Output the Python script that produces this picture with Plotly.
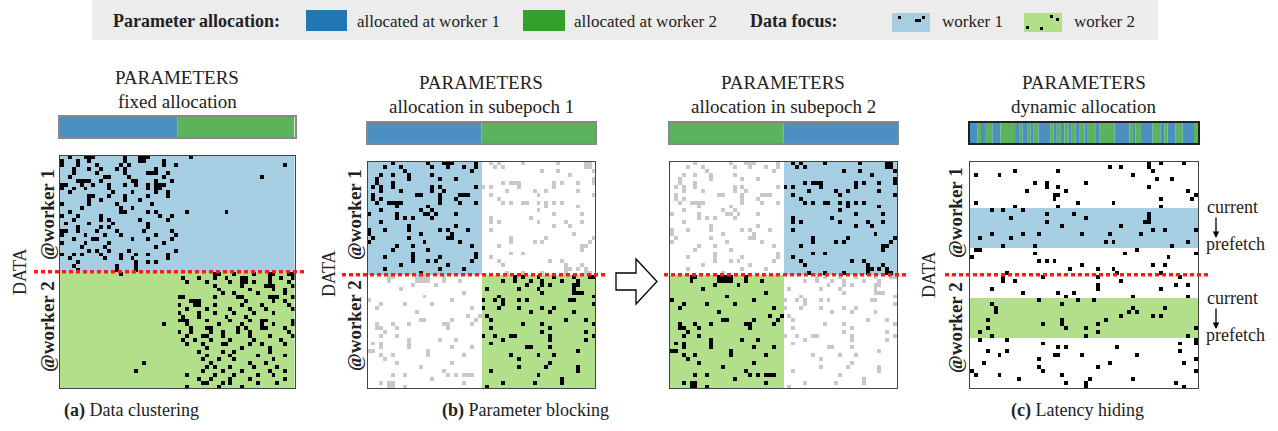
import plotly.graph_objects as go

W, H = 1278, 431


def X(px):
    return px / W


def Y(py):
    return 1 - py / H


FONT = "Liberation Serif"
TXT = "#222222"
BLUE_BAR = "#4a90c2"
GREEN_BAR = "#5bb35b"
LEG_BLUE = "#1f78b4"
LEG_GREEN = "#33a02c"
LB = "#a6cee3"
LG = "#b2df8a"
GRAY = "#c8c8c8"

# ---------------- data: dot positions {row: [cols]} ----------------
# (a) data clustering, 60 x 60 grid
a_dots = {
    0: [2, 6, 7, 8, 16, 20, 21, 22, 33], 1: [0, 4, 7, 16, 20, 21, 26],
    2: [0, 4, 9, 15, 17, 26, 29, 57], 3: [3, 7, 10, 14, 16, 24],
    4: [3, 9, 16, 22, 23, 24, 27], 5: [2, 11, 12, 17, 26, 51],
    6: [4, 5, 6, 7, 10, 18, 19, 24, 28], 7: [0, 1, 5, 8, 12, 16, 19, 22, 24, 25, 26],
    8: [0, 3, 6, 12, 22, 24, 25], 9: [2, 13, 18, 24, 27],
    10: [7, 8, 12, 16, 22, 27], 11: [7, 10, 16, 20], 12: [0, 7, 14, 23],
    13: [15, 18, 5], 14: [2, 15, 16, 22, 24, 32, 42], 15: [0, 4, 10, 25, 28],
    16: [3, 10, 12, 20, 27], 17: [1, 7, 13, 22], 18: [4, 10, 12, 22],
    19: [0, 1, 4, 9, 14, 21, 28], 20: [0, 6, 11, 15, 24, 29], 21: [3, 8, 9, 18, 22, 28],
    22: [0, 6, 12, 26], 23: [5, 11, 24], 24: [7, 9, 12, 17, 29],
    25: [0, 3, 5, 10, 15, 19, 22, 27], 26: [2, 11, 15, 18, 27], 27: [4, 19, 22, 24],
    28: [3, 14, 19], 29: [4, 14, 19],
    30: [15, 39, 40, 44, 49, 53, 54, 58, 59], 31: [31, 35, 39, 42, 46, 47, 53, 56, 59],
    32: [32, 37, 43, 46, 47, 49, 53, 58], 33: [39, 46, 52, 53, 54, 59],
    34: [40, 48, 54, 57], 35: [41, 44, 50, 57],
    36: [30, 31, 39, 45, 46, 53, 54, 55, 59], 37: [33, 34, 35, 47, 54, 57],
    38: [30, 34, 35, 39, 46, 51, 58], 39: [32, 37, 43, 48, 52, 59],
    40: [30, 35, 39, 44, 49, 54], 41: [31, 35, 42, 47],
    42: [30, 31, 32, 37, 43, 48, 51, 52, 59], 43: [26, 32, 40, 46, 51, 54, 59],
    44: [33, 37, 38, 45, 47, 51, 52, 57], 45: [30, 33, 38, 41, 45, 48, 58],
    46: [32, 36, 37, 41, 48, 53, 59], 47: [31, 34, 38, 43, 49, 56],
    48: [32, 36, 41, 42, 48, 51, 57], 49: [37, 46, 53], 50: [35, 41, 44, 53],
    51: [37, 43, 50, 57], 52: [36, 40, 44, 54], 53: [21, 38, 48, 52],
    54: [37, 39, 43, 49, 55], 55: [19, 36, 41, 46, 53, 57],
    56: [32, 39, 44, 50, 54], 57: [35, 38, 43, 48, 57],
    58: [36, 37, 41, 43, 50, 55], 59: [32, 40, 46],
}

# (b) parameter blocking, 58 x 58 grid
b_tl = {
    0: [6, 15, 19, 20, 21, 27], 1: [4, 8, 16, 20, 24, 27], 2: [9, 26],
    3: [3, 6, 10, 16], 4: [2, 10, 18, 22], 5: [2, 6],
    6: [1, 3, 6, 16, 18, 27], 7: [3, 8, 16, 19], 8: [1, 12, 13, 18, 23, 24, 25],
    9: [1, 3, 18, 22], 10: [2, 5, 6, 7, 8, 18, 23, 27], 11: [7, 15],
    12: [3, 13, 16], 13: [0, 7, 14, 15, 17, 22], 14: [7, 9, 11, 16], 15: [3],
    16: [10, 22], 17: [0, 4, 10, 18, 20, 25], 18: [0, 13, 21], 19: [1, 10, 20, 21],
    20: [0, 14, 23], 21: [7, 11, 26], 22: [6, 15], 23: [11, 27],
    24: [4, 11, 18, 27], 25: [11, 15, 17, 26], 26: [8, 20], 27: [4, 18, 24], 28: [13],
}
b_br = {
    29: [37, 39, 43, 47, 52, 56, 57], 30: [34, 37, 41, 44, 49, 53],
    31: [40, 44, 46, 52, 53], 32: [30, 38, 43, 52], 33: [44, 52, 53, 54],
    34: [33, 57], 35: [29, 32, 34, 38, 40, 51, 52], 36: [34, 57],
    37: [29, 33, 38, 44, 47], 38: [41, 46, 52], 39: [30], 40: [31, 50, 55],
    41: [39, 44, 57], 42: [31, 46], 43: [44, 55], 44: [29, 32, 36, 37, 46, 57],
    45: [34, 46, 55], 46: [31], 47: [40, 41, 46], 48: [53], 49: [36, 43, 47],
    50: [38], 51: [46], 52: [38, 45, 53], 53: [31, 53], 54: [43], 55: [49],
    56: [34, 42, 49], 57: [30],
}
b_tr = {
    0: [31, 33, 39, 48, 55, 56], 1: [32, 34, 55, 56], 2: [44, 48, 57], 3: [51],
    4: [57], 5: [34, 36, 37, 38, 47, 49, 53, 57], 6: [29, 31, 38, 47],
    7: [35, 42, 45, 53], 8: [31, 43, 57], 9: [33], 10: [34, 36, 39, 40, 43, 45, 47, 49],
    11: [45, 53], 12: [43], 13: [47, 54], 14: [31, 41], 15: [31, 33, 43, 50, 54],
    16: [47, 51], 17: [31], 18: [52], 19: [36, 45, 57], 20: [36, 42, 44, 56],
    21: [33, 54, 55], 22: [54], 23: [36, 39], 24: [31], 25: [33, 46, 49],
    26: [34, 50, 54], 27: [50, 51, 53, 55], 28: [35, 39, 44, 50, 55, 56],
}
b_bl = {
    29: [5, 6, 12, 13, 14, 15, 19], 30: [5, 12, 13, 14, 15, 19, 23], 31: [11, 17],
    32: [8], 33: [24], 34: [14], 35: [0, 21], 36: [3, 9, 16], 37: [2, 26],
    38: [12], 39: [25, 28], 40: [13, 14, 21, 27], 41: [2, 6, 10, 19, 20, 26],
    42: [2, 3, 7, 20], 43: [4], 44: [3, 7], 45: [10, 18, 22], 46: [1, 3, 10],
    47: [3, 10, 21, 26], 48: [0, 1, 15], 49: [3, 6, 15, 24], 50: [4],
    51: [7, 21], 52: [13], 53: [19], 54: [6, 9, 20, 22, 24, 25, 26], 55: [16],
    56: [3, 5, 6, 24], 57: [5, 6, 9],
}

# (c) latency hiding, 58 x 58 grid
c_dots = {
    0: [45, 48, 54], 1: [35, 38, 45], 2: [11, 22, 46], 3: [1, 7, 41], 4: [47, 51],
    5: [16, 19, 29], 6: [19, 22, 45], 7: [14, 24, 55], 8: [21, 22, 57],
    9: [21, 48, 56], 10: [1, 27, 36], 11: [11, 22, 48], 12: [5, 8, 13],
    13: [19, 26, 45], 14: [10, 29, 45], 15: [19, 44, 45], 16: [23, 38],
    17: [46, 49, 57], 18: [5, 13, 17, 28, 35, 43], 19: [2, 10], 20: [34, 36, 55],
    21: [8, 16, 51], 22: [1, 2, 42], 23: [16, 39, 57], 24: [0, 50],
    25: [17, 19, 21], 26: [28, 46, 49], 27: [25, 32, 36], 28: [9, 37, 48],
    29: [8, 18, 32, 53], 30: [8, 11, 38], 31: [32, 52, 55], 32: [5, 32, 48],
    33: [13, 22, 26], 34: [24, 41, 55], 35: [17, 27, 31], 36: [5, 23],
    37: [6, 41, 49], 38: [6, 40, 42], 39: [38, 46, 48], 40: [4, 23, 34],
    41: [18, 23, 32], 42: [4, 24, 29, 57], 43: [2, 32], 44: [5, 29, 55],
    45: [2, 9, 57], 46: [18, 53, 57], 47: [22, 24, 37], 48: [4, 9, 53],
    49: [7, 21, 22, 28, 42], 50: [17, 57], 51: [3, 35, 54], 52: [17, 32],
    53: [0, 18, 57], 54: [1, 7, 23], 55: [12, 30, 41], 56: [24, 29, 52], 57: [29, 54],
}

# parameter allocation bars
fixed_owner = ["w1", "w2"]
fixed_width = [30, 30]
sub1_owner = ["w1", "w2"]
sub1_width = [29, 29]
sub2_owner = ["w2", "w1"]
sub2_width = [29, 29]
dyn_bounds = [0, 1.95, 2.8, 3.82, 5.69, 7.73, 11.46, 12.48, 13.33, 14.52, 15.37,
              16.22, 17.41, 20.38, 21.23, 22.08, 23.1, 24.03, 25.05, 25.9, 26.92,
              27.94, 29.13, 29.98, 31.85, 32.86, 36.77, 40.51, 41.44, 42.04, 43.48,
              46.45, 48.4, 49.42, 50.27, 52.22, 54.09, 56.98, 58]
dyn_owner = ["w1", "w2", "w1", "w2", "w1", "w2", "w1", "w2", "w1", "w2",
             "w1", "w2", "w1", "w2", "w1", "w2", "w1", "w2", "w1", "w2",
             "w1", "w2", "w1", "w2", "w1", "w2", "w1", "w2", "w1", "w2",
             "w1", "w2", "w1", "w2", "w1", "w2", "w1", "w2"]

# ---------------- helpers ----------------
CS = [[0, "white"], [0.2, "white"], [0.2, LB], [0.4, LB], [0.4, LG], [0.6, LG],
      [0.6, "black"], [0.8, "black"], [0.8, GRAY], [1, GRAY]]


def build(n, bg, black, gray):
    z = [[bg(r, c) for c in range(n)] for r in range(n)]
    for d in gray:
        for r, cols in d.items():
            for c in cols:
                z[r][c] = 4
    for d in black:
        for r, cols in d.items():
            for c in cols:
                z[r][c] = 3
    return z


z_a = build(60, lambda r, c: 1 if r < 30 else 2, [a_dots], [])
z_b1 = build(58, lambda r, c: 1 if (r < 29 and c < 29) else (2 if (r >= 29 and c >= 29) else 0),
             [b_tl, b_br], [b_tr, b_bl])
z_b2 = build(58, lambda r, c: 1 if (r < 29 and c >= 29) else (2 if (r >= 29 and c < 29) else 0),
             [b_tr, b_bl], [b_tl, b_br])
z_c = build(58, lambda r, c: 1 if 12 <= r <= 21 else (2 if 35 <= r <= 44 else 0), [c_dots], [])

OWNER_COL = {"w1": BLUE_BAR, "w2": GREEN_BAR}

fig = go.Figure()
layout_axes = {}

# matrices: (z, n, left, right, top, bottom)
mats = [
    (z_a, 60, 60, 294.5, 155.5, 388),
    (z_b1, 58, 367.5, 595, 161.5, 388),
    (z_b2, 58, 670, 897, 161.5, 388),
    (z_c, 58, 970, 1198, 161.5, 388),
]
idx = 1
for z, n, l, r, t, b in mats:
    sfx = "" if idx == 1 else str(idx)
    fig.add_trace(go.Heatmap(z=z, colorscale=CS, zmin=-0.5, zmax=4.5, showscale=False,
                             hoverinfo="skip", xaxis="x" + sfx, yaxis="y" + sfx))
    layout_axes["xaxis" + sfx] = dict(domain=[X(l), X(r)], range=[-0.5, n - 0.5],
                                      showticklabels=False, showgrid=False, zeroline=False,
                                      showline=True, mirror=True, linecolor="#444",
                                      linewidth=1.2, anchor="y" + sfx, ticks="")
    layout_axes["yaxis" + sfx] = dict(domain=[Y(b), Y(t)], range=[n - 0.5, -0.5],
                                      showticklabels=False, showgrid=False, zeroline=False,
                                      showline=True, mirror=True, linecolor="#444",
                                      linewidth=1.2, anchor="x" + sfx, ticks="")
    idx += 1


def starts_of(widths):
    s, acc = [], 0
    for w in widths:
        s.append(acc)
        acc += w
    return s


bars = [
    (fixed_owner, fixed_width, 60, 294.5, 117, 137, "#888"),
    (sub1_owner, sub1_width, 367.5, 595, 123, 143, "#888"),
    (sub2_owner, sub2_width, 670, 897, 123, 143, "#888"),
    (dyn_owner, [dyn_bounds[i + 1] - dyn_bounds[i] for i in range(len(dyn_owner))],
     970, 1198, 123, 143, "#222"),
]
for owners, widths, l, r, t, b, lc in bars:
    sfx = str(idx)
    total = sum(widths)
    fig.add_trace(go.Bar(x=widths, base=starts_of(widths), y=[0] * len(widths),
                         orientation="h", width=1,
                         marker=dict(color=[OWNER_COL[o] for o in owners], line=dict(width=0)),
                         hoverinfo="skip", xaxis="x" + sfx, yaxis="y" + sfx))
    layout_axes["xaxis" + sfx] = dict(domain=[X(l), X(r)], range=[0, total],
                                      showticklabels=False, showgrid=False, zeroline=False,
                                      showline=True, mirror=True, linecolor=lc,
                                      linewidth=1.5, anchor="y" + sfx, ticks="")
    layout_axes["yaxis" + sfx] = dict(domain=[Y(b), Y(t)], range=[-0.5, 0.5],
                                      showticklabels=False, showgrid=False, zeroline=False,
                                      showline=True, mirror=True, linecolor=lc,
                                      linewidth=1.5, anchor="x" + sfx, ticks="")
    idx += 1

# ---------------- shapes ----------------
shapes = []


def rect(x0, y0, x1, y1, fill, layer="above"):
    shapes.append(dict(type="rect", xref="paper", yref="paper", x0=X(x0), x1=X(x1),
                       y0=Y(y1), y1=Y(y0), fillcolor=fill, layer=layer,
                       line=dict(width=0)))


# legend box
rect(92, 0, 1158, 40, "#ececec", layer="below")
rect(306, 10, 347, 31, LEG_BLUE)
rect(523, 10, 565, 31, LEG_GREEN)
rect(892, 13, 930, 32, LB)
rect(1024, 13, 1062, 32, LG)
for (dx, dy) in [(898, 16), (915, 19), (918, 19), (922, 16)]:
    rect(dx, dy, dx + 3, dy + 3, "black")
for (dx, dy) in [(1026, 26), (1040, 27), (1050, 15), (1056, 18)]:
    rect(dx, dy, dx + 3, dy + 3, "black")

# red dotted separators
for x0, x1, yy in [(34, 306, 271.8), (342, 606, 274.8), (664, 908, 274.8), (945, 1210, 274.8)]:
    shapes.append(dict(type="line", xref="paper", yref="paper", x0=X(x0), x1=X(x1),
                       y0=Y(yy), y1=Y(yy), line=dict(color="#ff1a1a", width=3.5, dash="4px,3px")))

# hollow arrow between subepochs
pts = [(616, 273), (636, 273), (636, 259), (657, 281.5), (636, 304), (636, 290), (616, 290)]
path = "M " + " L ".join(f"{X(px):.5f},{Y(py):.5f}" for px, py in pts) + " Z"
shapes.append(dict(type="path", xref="paper", yref="paper", path=path,
                   fillcolor="white", line=dict(color="black", width=1.3)))

# ---------------- annotations ----------------
ann = []


def text(px, py, s, size=18, xanchor="center", angle=0):
    ann.append(dict(x=X(px), y=Y(py), xref="paper", yref="paper", text=s, showarrow=False,
                    xanchor=xanchor, yanchor="middle", textangle=angle,
                    font=dict(family=FONT, size=size, color=TXT)))


text(111, 21, "<b>Parameter allocation:</b>", 18, "left")
text(355, 21, "allocated at worker 1", 17, "left")
text(572, 21, "allocated at worker 2", 17, "left")
text(748, 21, "<b>Data focus:</b>", 18, "left")
text(940, 21, "worker 1", 17, "left")
text(1072, 21, "worker 2", 17, "left")

for cx, sub, ty in [(177, "fixed allocation", 78), (481, "allocation in subepoch 1", 82),
                    (783, "allocation in subepoch 2", 82), (1084, "dynamic allocation", 82)]:
    text(cx, ty, "PARAMETERS", 19)
    text(cx, ty + 24, sub, 19)

for dx, wx, wy1, wy2, dy in [(20, 47, 215, 327, 272), (329, 354, 215, 326, 274),
                             (929, 955, 213, 328, 275)]:
    text(dx, dy, "DATA", 18, angle=-90)
    text(wx, wy1, "<b>@worker 1</b>", 19, angle=-90)
    text(wx, wy2, "<b>@worker 2</b>", 19, angle=-90)

for ty in [207, 298]:
    text(1232, ty, "current", 18)
    text(1235, ty + 37, "prefetch", 18)
    ann.append(dict(x=X(1216), y=Y(ty + 31), xref="paper", yref="paper", text="",
                    showarrow=True, ax=0, ay=-22, axref="pixel", ayref="pixel",
                    arrowhead=2, arrowsize=1, arrowwidth=1.3, arrowcolor="black"))

text(131, 410, "<b>(a)</b> Data clustering", 18)
text(525, 410, "<b>(b)</b> Parameter blocking", 18)
text(1077, 410, "<b>(c)</b> Latency hiding", 18)

fig.update_layout(width=W, height=H, margin=dict(l=0, r=0, t=0, b=0),
                  paper_bgcolor="white", plot_bgcolor="white", showlegend=False,
                  shapes=shapes, annotations=ann, **layout_axes)

fig.write_html("out.html", config={"displayModeBar": False},
               post_script="document.body.style.margin='0px';document.body.style.overflow='hidden';")
